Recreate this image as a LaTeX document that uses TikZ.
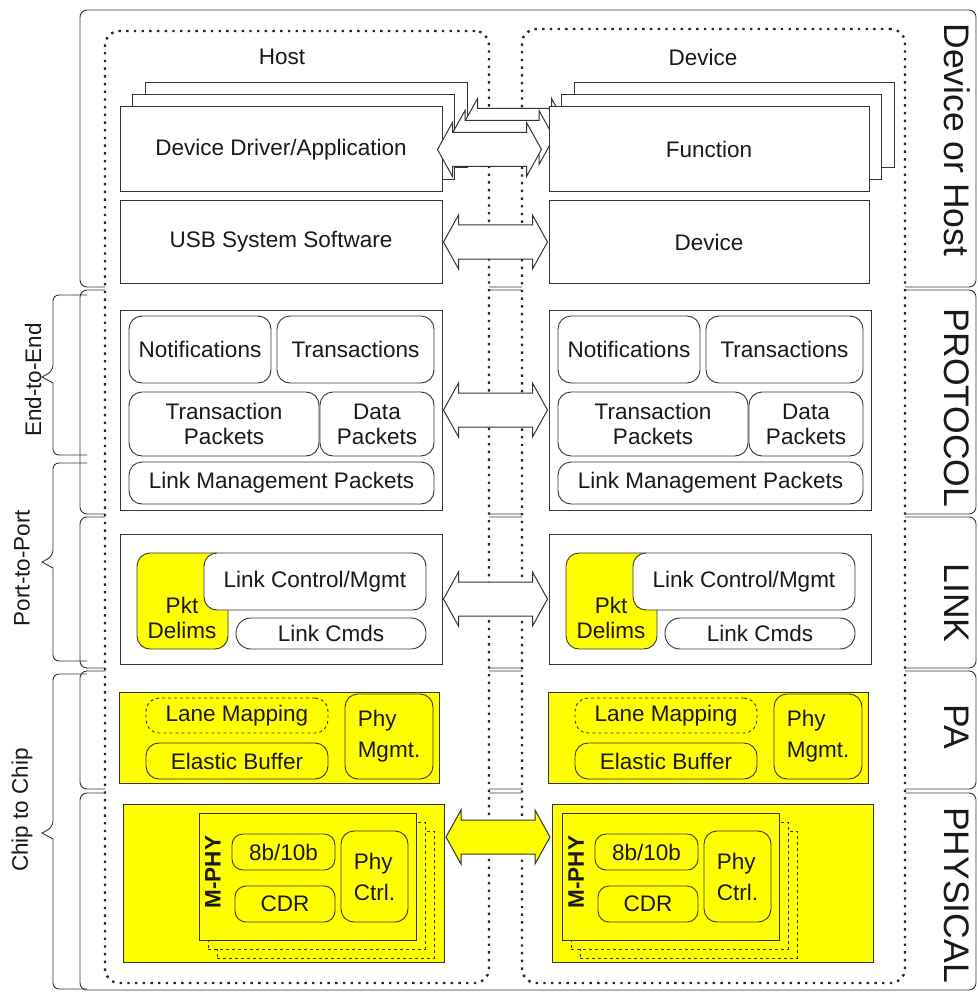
\documentclass[tikz,border=0pt]{standalone}
\usepackage{fontspec}
\setmainfont{Liberation Sans}
\usepackage{xcolor}
\definecolor{usbyel}{HTML}{FFFF00}
\definecolor{usbline}{HTML}{333333}
\newcommand\usbfont{\fontsize{22.5}{25}\selectfont}
\newcommand\phyfont{\fontsize{22.5}{31}\selectfont}
\newcommand\layfont{\fontsize{35.5}{40}\selectfont}
\usepackage{tikz}
\usetikzlibrary{calc,fit,positioning}

\tikzset{
	band/.style={draw=usbline,line width=0.9pt,rounded corners=7pt},
	brace/.style={draw=usbline,line width=0.9pt},
	dotframe/.style={draw=black!85,line width=2.4pt,dash pattern=on 2.4pt off 5.3pt,fill=white,rounded corners=14pt,inner sep=0pt},
	txt/.style={font=\usbfont,text=black!90,align=center,inner sep=0pt},
	box/.style={draw=usbline,line width=1pt,fill=white,inner sep=0pt},
	rbox/.style={box,line width=0.9pt,rounded corners=13pt},
	ybox/.style={box,fill=usbyel},
	say/.style={label={[txt]center:{#1}}},
	sayphy/.style={label={[txt,font=\phyfont,align=left]center:{#1}}},
	laylbl/.style={font=\layfont,text=black!90,rotate=-90,inner sep=0pt},
	arr/.style={draw=usbline,fill=white,line width=1pt},
	blockarrow/.pic={%
		\path[pic actions] (-52,0) -- (-37,-27) -- (-37,-17) -- (37,-17) -- (37,-27)
			-- (52,0) -- (37,27) -- (37,17) -- (-37,17) -- (-37,27) -- cycle;
	}
}

\begin{document}
\begin{tikzpicture}[x=1pt,y=-1pt]
	\useasboundingbox (0,0) rectangle (977,992);
	%% layer bands
	\foreach \t/\b in {10/287,290/514,517/668,671/789,793/990}{
		\draw[band] (80,\t) rectangle (976,\b);
	}
	%% braces on the left
	\foreach \t/\m/\b/\lab/\lx/\ly [count=\i] in {295/377/455/End-to-End/33/380,463/562/661/Port-to-Port/22/568,674/833/989/Chip to Chip/22/810}{
		\draw[brace] (87,\t) [rounded corners=6pt] -| (53,\m-6) [sharp corners] -- (42,\m) -- (53,\m+6) [rounded corners=6pt] |- (87,\b);
		\node[txt,rotate=90] (span\i) at (\lx,\ly) {\lab};
	}
	%% layer names on the right
	\foreach \lab/\y [count=\i] in {Device or Host/140,PROTOCOL/408,LINK/603,PA/727,PHYSICAL/895}{
		\node[laylbl] (lay\i) at (957,\y) {\lab};
	}
	%% host and device frames
	\node[dotframe,fit={(105,31) (489,983)}] (hostframe) {};
	\node[dotframe,fit={(522,29) (905,983)}] (devframe) {};
	\node[txt] (hosttitle) at (282,57) {Host};
	\node[txt] (devtitle) at (703,57) {Device};
	%% stacked driver / function
	\foreach \k in {2,1}{
		\node[box,fit={(120+12.5*\k,107-12*\k) (442+12.5*\k,192-12*\k)}] (app\k) {};
		\node[box,fit={(549+12.5*\k,107-12*\k) (869+12.5*\k,192-12*\k)}] (fun\k) {};
		\pic[arr] at ($(app\k.east)!.5!(fun\k.west)+(-6,0)$) {blockarrow};
	}
	\node[box,say=Device Driver/Application,fit={(120,107) (442,192)}] (app) {};
	\node[box,say=Function,fit={(549,107) (869,192)}] (fun) {};
	\pic[arr] at ($(app.east)!.5!(fun.west)+(-6,0)$) {blockarrow};
	\node[box,say=USB System Software,fit={(120,201) (442,283)}] (usb-h) {};
	\node[box,say=Device,fit={(549,201) (869,283)}] (usb-d) {};
	%% the layers, host and device side
	\foreach \s/\bx/\px/\mx in {h/120/123/199,d/549/552/562}{
		% protocol
		\node[box,fit={(\bx,310) (\bx+322,510)}] (prot-\s) {};
		\node[rbox,say=Notifications,fit={(\bx+9,316) (\bx+151,383)}] (notif-\s) {};
		\node[rbox,say=Transactions,fit={(\bx+157,316) (\bx+314,383)}] (trans-\s) {};
		\node[rbox,say=Transaction\\Packets,fit={(\bx+9,392) (\bx+199,456)}] (tpkt-\s) {};
		\node[rbox,say=Data\\Packets,fit={(\bx+200,392) (\bx+314,456)}] (dpkt-\s) {};
		\node[rbox,say=Link Management Packets,fit={(\bx+9,462) (\bx+314,504)}] (lmp-\s) {};
		% link
		\node[box,fit={(\bx,534) (\bx+322,664)}] (link-\s) {};
		\node[rbox,fill=usbyel,fit={(\bx+17,553) (\bx+108,649)}] (pkt-\s) {};
		\node[rbox,say=Link Control/Mgmt,fit={(\bx+84,553) (\bx+306,610)}] (lcm-\s) {};
		\node[rbox,rounded corners=15pt,say=Link Cmds,fit={(\bx+116,618) (\bx+306,649)}] (lcmd-\s) {};
		\node[txt] (pkttxt-\s) at (\bx+62,618) {Pkt\\Delims};
		% PA
		\node[ybox,fit={(\bx-1,692) (\bx+319,783)}] (pa-\s) {};
		\node[rbox,fill=usbyel,dashed,say=Lane Mapping,fit={(\bx+26,698) (\bx+208,733)}] (lane-\s) {};
		\node[rbox,fill=usbyel,say=Elastic Buffer,fit={(\bx+26,743) (\bx+208,779)}] (elbuf-\s) {};
		\node[rbox,fill=usbyel,sayphy=Phy\\Mgmt.,fit={(\bx+225,694) (\bx+313,779)}] (phymg-\s) {};
		% physical
		\node[ybox,fit={(\px,804) (\px+321,962)}] (phys-\s) {};
		\foreach \k in {2,1}{
			\node[ybox,dashed,line width=0.8pt,fit={(\mx+9*\k,813+9*\k) (\mx+217+9*\k,940+9*\k)}] (mphy\k-\s) {};
		}
		\node[ybox,fit={(\mx,813) (\mx+217,940)}] (mphy-\s) {};
		\node[txt,font={\usbfont\bfseries},rotate=90] (mphytxt-\s) at (\mx+14,872) {M-PHY};
		\node[rbox,fill=usbyel,rounded corners=11pt,say=8b/10b,fit={(\mx+33,834) (\mx+136,870)}] (enc-\s) {};
		\node[rbox,fill=usbyel,rounded corners=11pt,say=CDR,fit={(\mx+36,886) (\mx+136,922)}] (cdr-\s) {};
		\node[rbox,fill=usbyel,sayphy=Phy\\Ctrl.,fit={(\mx+142,831) (\mx+209,922)}] (phyctl-\s) {};
	}
	%% arrows between the sides
	\pic[arr] at ($(usb-h.east)!.5!(usb-d.west)$) {blockarrow};
	\pic[arr] at ($(prot-h.east)!.5!(prot-d.west)$) {blockarrow};
	\pic[arr] at ($(link-h.east)!.5!(link-d.west)$) {blockarrow};
	\pic[arr,fill=usbyel] at ($(phys-h.east)!.5!(phys-d.west)+(0,-46)$) {blockarrow};
\end{tikzpicture}
\end{document}
